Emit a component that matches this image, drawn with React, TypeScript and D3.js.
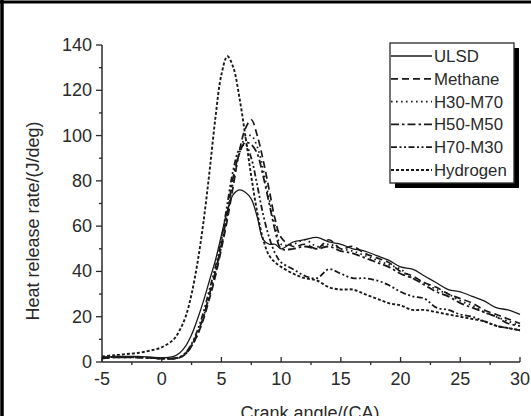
import * as d3 from "d3";

const W = 531;
const H = 416;

// shared crank angle grid
const crankAngle = [
  -5, -4, -3, -2, -1, 0, 1, 1.5, 2, 2.5, 3, 3.5, 4, 4.5, 5, 5.5, 6, 6.5, 7, 7.5, 8, 8.5, 9, 9.5, 10,
  11, 12, 13, 14, 15, 16, 17, 18, 19, 20, 21, 22, 23, 24, 25, 26, 27, 28, 29, 30,
];

const ulsd = [
  2, 2.5, 2.5, 2.5, 2.2, 1.8, 2.5, 4, 7, 12, 19, 27, 36, 45, 56, 67, 74, 76, 75, 72, 64, 54, 52, 52, 50,
  53, 54, 55, 53, 52, 50, 49, 47, 45, 42, 41, 38, 35, 32, 31, 29, 27, 24, 23, 21,
];
const methane = [
  1.5, 2, 2, 2, 1.8, 1.5, 1.5, 2, 3.5, 7, 12, 19, 28, 38, 50, 63, 78, 93, 103, 107, 100, 89, 76, 63, 55,
  51, 52, 50, 54, 50, 51, 48, 46, 44, 40, 38, 35, 33, 30, 28, 26, 23, 21, 19, 17,
];
const h30m70 = [
  2, 2, 2.2, 2, 1.8, 1.5, 1.5, 2, 3.5, 7, 12, 20, 29, 39, 51, 65, 80, 92, 99, 100, 95, 85, 72, 60, 52,
  52, 54, 51, 52, 50, 49, 47, 45, 43, 41, 37, 35, 32, 30, 27, 25, 22, 20, 18, 16,
];
const h50m50 = [
  1.8, 2, 2, 2, 1.8, 1.5, 1.5, 2, 3.8, 7.5, 13, 20, 30, 40, 52, 66, 82, 92, 97, 96, 92, 82, 70, 58, 50,
  50, 51, 50, 51, 49, 48, 46, 44, 42, 39, 37, 34, 31, 29, 26, 24, 22, 20, 17, 16,
];
const h70m30 = [
  2, 2.2, 2.2, 2, 1.8, 1.5, 1.6, 2.2, 4, 8, 14, 22, 32, 42, 54, 70, 85, 94, 96, 90, 78, 65, 55, 48, 44,
  41, 38, 37, 41, 39, 37, 37, 36, 34, 31, 29, 28, 24, 23, 21, 20, 18, 16, 15, 14,
];
const hydrogen = [
  2.5, 3, 3.5, 4, 5, 6.5, 10, 14, 20, 30, 44, 62, 84, 108, 127, 135, 130, 117, 100, 82, 66, 54, 47, 44, 42,
  39, 37, 36, 33, 32, 32, 30, 28, 26, 25, 23, 23, 22, 21, 20, 19, 18, 16, 15, 14,
];

const seriesNames = ["ULSD", "Methane", "H30-M70", "H50-M50", "H70-M30", "Hydrogen"];
const seriesValues = [ulsd, methane, h30m70, h50m50, h70m30, hydrogen];
const dashes = ["none", "7,4", "1.6,3.4", "8,3,2.5,3", "6,2.5,2,2.5,2,2.5", "3,2"];
const widths = [1.3, 1.7, 1.7, 1.8, 1.8, 1.9];

const xTicks = [-5, 0, 5, 10, 15, 20, 25, 30];
const yTicks = [0, 20, 40, 60, 80, 100, 120, 140];

const FONT = "'Liberation Sans', Arial, sans-serif";
const INK = "#2a2a2a";
const FS = 18;

export default function App() {
  const x = d3.scaleLinear().domain([-5, 30]).range([102, 520]);
  const y = d3.scaleLinear().domain([0, 140]).range([362, 45]);

  const line = d3
    .line<number>()
    .x((_, i) => x(crankAngle[i]))
    .y((d) => y(d))
    .curve(d3.curveCatmullRom.alpha(0.5));

  const xMinor = d3.range(-2.5, 30, 5);
  const yMinor = d3.range(10, 140, 20);

  const legX = 390;
  const legY = 43;
  const legW = 124;
  const legH = 140;
  const rowY = (i: number) => 56 + i * 22.8;

  return (
    <svg
      width={W}
      height={H}
      style={{ position: "absolute", left: 0, top: 0, background: "#fff" }}
      fontFamily={FONT}
    >
      <rect x={0} y={0} width={W} height={H} fill="#fff" />
      {/* outer frame (top + left) */}
      <line x1={0} y1={2} x2={W} y2={2} stroke="#000" strokeWidth={3} />
      <line x1={2} y1={0} x2={2} y2={H} stroke="#000" strokeWidth={3.5} />

      {/* axes */}
      <line x1={x(-5)} y1={y(0)} x2={x(30)} y2={y(0)} stroke={INK} strokeWidth={1.5} />
      <line x1={x(-5)} y1={y(0)} x2={x(-5)} y2={y(140)} stroke={INK} strokeWidth={1.5} />
      {xTicks.map((t) => (
        <g key={"xt" + t}>
          <line x1={x(t)} x2={x(t)} y1={y(0)} y2={y(0) - 5} stroke={INK} strokeWidth={1.3} />
          <text x={x(t)} y={y(0) + 23} textAnchor="middle" fontSize={FS} fill={INK}>
            {t}
          </text>
        </g>
      ))}
      {xMinor.map((t) => (
        <line key={"xm" + t} x1={x(t)} x2={x(t)} y1={y(0)} y2={y(0) + 3} stroke={INK} strokeWidth={1.3} />
      ))}
      {yTicks.map((t) => (
        <g key={"yt" + t}>
          <line x1={x(-5)} x2={x(-5) - 6} y1={y(t)} y2={y(t)} stroke={INK} strokeWidth={1.3} />
          <text x={x(-5) - 10} y={y(t) + 6} textAnchor="end" fontSize={FS} fill={INK}>
            {t}
          </text>
        </g>
      ))}
      {yMinor.map((t) => (
        <line key={"ym" + t} x1={x(-5)} x2={x(-5) - 3} y1={y(t)} y2={y(t)} stroke={INK} strokeWidth={1.3} />
      ))}

      <text
        transform={`translate(39,221) rotate(-90)`}
        textAnchor="middle"
        fontSize={FS}
        fill={INK}
      >
        Heat release rate/(J/deg)
      </text>
      <text x={310} y={419} textAnchor="middle" fontSize={FS} fill={INK}>
        Crank angle/(CA)
      </text>

      {/* curves */}
      <g fill="none" stroke="#1a1a1a" strokeLinejoin="round">
        {seriesValues.map((vals, i) => (
          <path
            key={seriesNames[i]}
            d={line(vals) ?? ""}
            strokeDasharray={dashes[i]}
            strokeWidth={widths[i]}
          />
        ))}
      </g>

      {/* legend */}
      <rect x={legX + 5} y={legY + 5} width={legW} height={legH} fill="#000" />
      <rect x={legX} y={legY} width={legW} height={legH} fill="#fff" stroke={INK} strokeWidth={1.3} />
      {seriesNames.map((name, i) => (
        <g key={"lg" + name}>
          <line
            x1={legX + 1}
            x2={legX + 42}
            y1={rowY(i)}
            y2={rowY(i)}
            stroke="#1a1a1a"
            strokeDasharray={dashes[i]}
            strokeWidth={widths[i]}
          />
          <text x={legX + 44} y={rowY(i) + 6} fontSize={16.8} fill={INK}>
            {name}
          </text>
        </g>
      ))}
    </svg>
  );
}
